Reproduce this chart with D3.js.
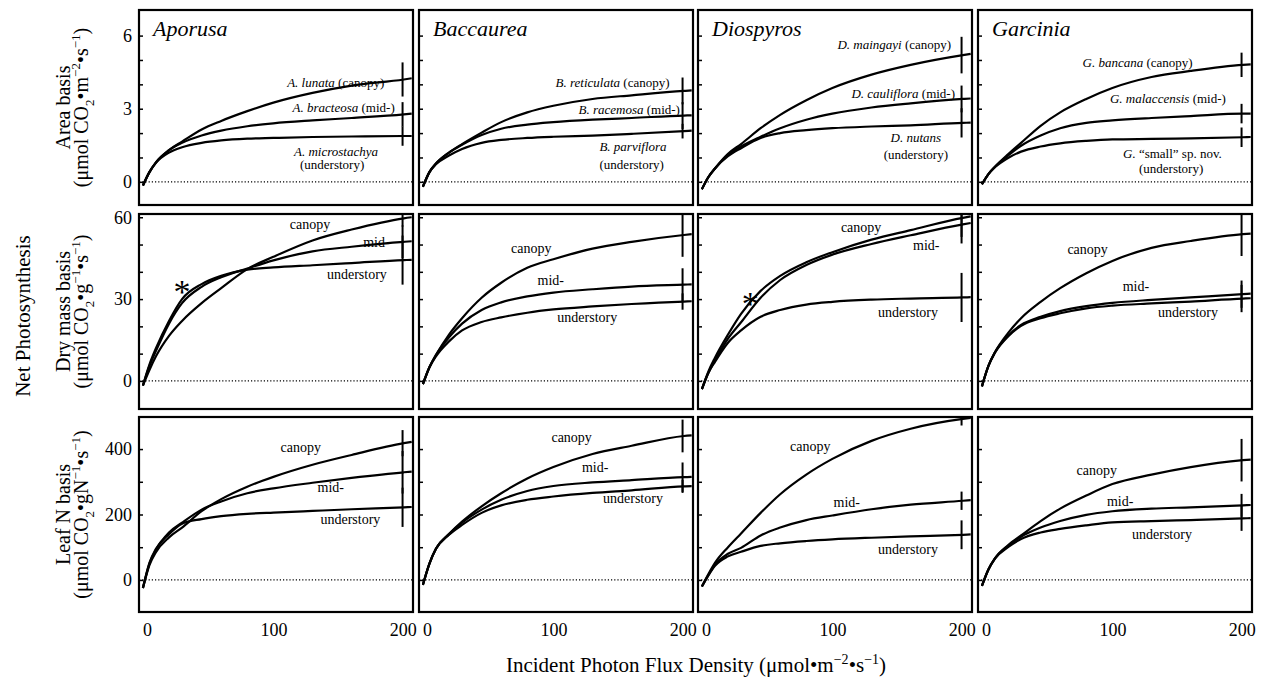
<!DOCTYPE html>
<html>
<head>
<meta charset="utf-8">
<script src="https://cdn.jsdelivr.net/npm/d3@7"></script>
<style>
  body { margin: 0; background: #fff; }
  svg text { font-family: "Liberation Serif", "Times New Roman", serif; fill: #000; }
</style>
</head>
<body>
<svg id="chart" width="1263" height="679"></svg>
<script>
var xs = [0, 5, 10, 20, 30, 45, 60, 80, 100, 130, 160, 200, 206];
var errAt = 199;   // error bars sit at the last measured light level
var genera = ["Aporusa", "Baccaurea", "Diospyros", "Garcinia"];
var xTicks = [0, 100, 200];

/* species names, [italic part, roman part] : canopy, mid-, understory */
var aporusaNames = [["A. lunata", ""], ["A. bracteosa", ""], ["A. microstachya", ""]];
var baccaureaNames = [["B. reticulata", ""], ["B. racemosa", ""], ["B. parviflora", ""]];
var diospyrosNames = [["D. maingayi", ""], ["D. cauliflora", ""], ["D. nutans", ""]];
var garciniaNames = [["G. bancana", ""], ["G. malaccensis", ""], ["G.", " \u201Csmall\u201D sp. nov."]];

/* Area basis: canopy, mid-, understory */
var aporusaArea = [
  [-0.15, 0.4, 0.8, 1.3, 1.65, 2.15, 2.5, 2.9, 3.25, 3.65, 3.95, 4.2, 4.25],
  [-0.15, 0.4, 0.8, 1.3, 1.6, 1.9, 2.1, 2.28, 2.4, 2.52, 2.62, 2.77, 2.8],
  [-0.15, 0.4, 0.78, 1.2, 1.42, 1.6, 1.7, 1.77, 1.8, 1.84, 1.86, 1.88, 1.88]
];
var baccaureaArea = [
  [-0.2, 0.4, 0.75, 1.2, 1.55, 2.02, 2.45, 2.85, 3.12, 3.4, 3.55, 3.73, 3.75],
  [-0.2, 0.4, 0.75, 1.2, 1.52, 1.92, 2.18, 2.35, 2.45, 2.55, 2.62, 2.72, 2.73],
  [-0.2, 0.4, 0.72, 1.08, 1.35, 1.6, 1.72, 1.8, 1.85, 1.9, 1.97, 2.08, 2.1]
];
var diospyrosArea = [
  [-0.3, 0.2, 0.55, 1.15, 1.55, 2.2, 2.75, 3.35, 3.85, 4.4, 4.8, 5.2, 5.25],
  [-0.3, 0.2, 0.55, 1.1, 1.45, 1.85, 2.2, 2.55, 2.8, 3.05, 3.22, 3.4, 3.42],
  [-0.3, 0.2, 0.55, 1.05, 1.38, 1.8, 2.0, 2.12, 2.2, 2.27, 2.32, 2.42, 2.43]
];
var garciniaArea = [
  [-0.1, 0.32, 0.62, 1.13, 1.6, 2.3, 2.85, 3.4, 3.85, 4.3, 4.55, 4.8, 4.82],
  [-0.1, 0.32, 0.62, 1.08, 1.48, 1.9, 2.2, 2.42, 2.52, 2.62, 2.7, 2.8, 2.8],
  [-0.1, 0.32, 0.6, 0.98, 1.24, 1.45, 1.58, 1.68, 1.74, 1.76, 1.78, 1.83, 1.84]
];
var aporusaAreaErr = [0.7, 0.5, 0.4];
var baccaureaAreaErr = [0.55, 0.55, 0.3];
var diospyrosAreaErr = [0.75, 0.55, 0.6];
var garciniaAreaErr = [0.5, 0.4, 0.4];

/* Dry mass basis */
var aporusaMass = [
  [-1.7, 4, 9, 16.5, 22, 28.5, 34, 41, 45.5, 51.5, 55.5, 59.6, 60],
  [-1.7, 5.5, 11, 21, 28.5, 34.5, 38, 41.2, 44.2, 47.5, 49.2, 51, 51.2],
  [-1.7, 6, 12, 22, 30, 35.5, 38.5, 40.8, 41.6, 42.4, 43.2, 44.3, 44.4]
];
var baccaureaMass = [
  [-1.2, 5, 9.5, 17, 23, 30.5, 36, 41.5, 44.6, 48.5, 51, 53.5, 53.8],
  [-1.2, 5, 9.5, 16, 21, 26, 28.8, 31, 32.4, 33.6, 34.6, 35.3, 35.4],
  [-1.2, 5, 9, 14.5, 18.5, 21.6, 23.3, 25, 26.2, 27.3, 28.2, 29.1, 29.2]
];
var diospyrosMass = [
  [-3, 3.5, 8.5, 17, 24.6, 33, 38.5, 43.5, 47.2, 51.8, 55.3, 59.8, 60.3],
  [-3, 3, 7.5, 15.5, 21.5, 30.5, 37, 42.5, 46.3, 50.2, 53.4, 57.4, 57.9],
  [-3, 3, 7, 14, 18.5, 23.5, 26, 28, 29, 29.8, 30.2, 30.6, 30.7]
];
var garciniaMass = [
  [-2, 5.5, 10.5, 17.5, 23, 29, 34, 39.5, 44, 48.8, 51.3, 53.8, 54],
  [-2, 5.5, 10.5, 16.5, 20.5, 23.5, 25.6, 27.4, 28.6, 29.7, 30.6, 31.8, 32],
  [-2, 5.5, 10.3, 16.3, 20.2, 23, 24.8, 26.6, 27.6, 28.4, 29.1, 30.2, 30.3]
];
var aporusaMassErr = [3, 6, 9];
var baccaureaMassErr = [8, 6, 3];
var diospyrosMassErr = [7, 7, 9];
var garciniaMassErr = [8, 5, 5];

/* Leaf N basis */
var aporusaN = [
  [-25, 45, 85, 130, 160, 210, 247, 285, 315, 352, 382, 418, 422],
  [-25, 50, 92, 145, 175, 215, 240, 265, 280, 297, 312, 329, 331],
  [-25, 52, 95, 140, 172, 186, 195, 202, 206, 211, 216, 222, 223]
];
var baccaureaN = [
  [-15, 50, 95, 140, 178, 225, 265, 310, 345, 385, 410, 440, 442],
  [-15, 50, 95, 140, 175, 215, 245, 272, 287, 298, 305, 314, 315],
  [-15, 50, 95, 138, 168, 205, 228, 245, 255, 266, 274, 286, 287]
];
var diospyrosN = [
  [-20, 18, 52, 100, 142, 205, 262, 322, 370, 425, 462, 492, 495],
  [-20, 15, 46, 80, 98, 136, 160, 183, 197, 216, 230, 242, 244],
  [-20, 14, 43, 72, 86, 104, 112, 119, 124, 129, 133, 138, 139]
];
var garciniaN = [
  [-18, 32, 66, 106, 136, 180, 218, 258, 293, 322, 345, 366, 368],
  [-18, 32, 66, 104, 132, 160, 180, 199, 210, 218, 222, 228, 229],
  [-18, 32, 65, 100, 125, 145, 156, 167, 176, 180, 183, 188, 189]
];
var aporusaNErr = [40, 65, 60];
var baccaureaNErr = [50, 45, 20];
var diospyrosNErr = [20, 28, 44];
var garciniaNErr = [65, 35, 38];

var names = [aporusaNames, baccaureaNames, diospyrosNames, garciniaNames];

/* layout */
var svg = d3.select("#chart");
var colLeft = [139, 419, 698, 978],
    rowTop = [10, 214, 417],
    pw = 274, ph = 195;

var sub = function(s) { return [s, "sub"]; }, sup = function(s) { return [s, "sup"]; };

/* rows: scales, ticks, titles, and where the labels go (in data units) */
var rows = [
  { domain: [-0.95, 7.05], minor: d3.range(0, 7, 1), major: [0, 3, 6],
    title: "Area basis",
    units: [["(\u03BCmol CO", ""], sub("2"), ["\u2022m", ""], sup("\u22122"), ["\u2022s", ""], sup("\u22121"), [")", ""]],
    data: [aporusaArea, baccaureaArea, diospyrosArea, garciniaArea],
    err: [aporusaAreaErr, baccaureaAreaErr, diospyrosAreaErr, garciniaAreaErr],
    pos: [
      [[185, 3.9], [193, 2.85], [148, 1.06], [145, 0.53]],
      [[189, 3.9], [197, 2.78], [161, 1.27], [160, 0.53]],
      [[191, 5.47], [194, 3.43], [164, 1.63], [164, 0.94]],
      [[161.5, 4.73], [187, 3.22], [146, 0.98], [145, 0.37]]
    ] },
  { domain: [-10.3, 61.2], minor: d3.range(0, 61, 10), major: [0, 30, 60],
    title: "Dry mass basis",
    units: [["(\u03BCmol CO", ""], sub("2"), ["\u2022g", ""], sup("\u22121"), ["\u2022s", ""], sup("\u22121"), [")", ""]],
    data: [aporusaMass, baccaureaMass, diospyrosMass, garciniaMass],
    err: [aporusaMassErr, baccaureaMassErr, diospyrosMassErr, garciniaMassErr],
    pos: [
      [[128, 55.6], [179, 49], [164, 37.5]],
      [[83, 47], [98, 35], [126, 21.5]],
      [[122, 54.5], [172, 48], [158, 23.6]],
      [[81, 46.6], [118, 33], [158, 23.5]]
    ],
    star: [[30, 28.6], null, [37, 24.2], null] },
  { domain: [-98, 498], minor: d3.range(0, 401, 100), major: [0, 200, 400],
    title: "Leaf N basis",
    units: [["(\u03BCmol CO", ""], sub("2"), ["\u2022gN", ""], sup("\u22121"), ["\u2022s", ""], sup("\u22121"), [")", ""]],
    data: [aporusaN, baccaureaN, diospyrosN, garciniaN],
    err: [aporusaNErr, baccaureaNErr, diospyrosNErr, garciniaNErr],
    pos: [
      [[121, 390], [144, 268], [159, 172]],
      [[114, 421], [132, 329], [161, 234]],
      [[83, 394], [111, 222], [158, 80]],
      [[88, 320], [106, 225], [138, 126]]
    ] }
];

/* writes text made of pieces: "" plain, "i" italic, "sub", "sup" */
function addParts(t, parts, fs) {
  var shift = 0;
  parts.forEach(function(p) {
    if (p[0] === "") return;
    var ts = t.append("tspan").text(p[0]);
    var target = p[1] == "sup" ? -0.38 * fs : p[1] == "sub" ? 0.28 * fs : 0;
    if (target != shift) { ts.attr("dy", target - shift); shift = target; }
    if (p[1] == "sup" || p[1] == "sub") ts.attr("font-size", Math.round(0.66 * fs));
    if (p[1] == "i") ts.attr("font-style", "italic");
  });
}

var serif = "Liberation Serif, Times New Roman, serif";
var x = d3.scaleLinear().domain([-3, 207]).range([0, pw]);

rows.forEach(function(row, r) {
  var y = d3.scaleLinear().domain(row.domain).range([ph, 0]);
  var line = d3.line()
      .x(function(d, i) { return x(xs[i]); })
      .y(function(d) { return y(d); })
      .curve(d3.curveMonotoneX);

  row.data.forEach(function(series, c) {
    var g = svg.append("g")
        .attr("transform", "translate(" + colLeft[c] + "," + rowTop[r] + ")");
    var clipId = "clip" + r + "_" + c;
    g.append("clipPath").attr("id", clipId)
      .append("rect").attr("width", pw).attr("height", ph);

    /* dotted zero line */
    g.append("line")
        .attr("x1", 0).attr("x2", pw)
        .attr("y1", y(0)).attr("y2", y(0))
        .attr("stroke", "#000").attr("stroke-width", 1.2)
        .attr("stroke-dasharray", "1.2,2");

    /* inward tick marks */
    g.append("g")
        .call(d3.axisLeft(y).tickValues(row.minor).tickSize(-4).tickFormat(""))
        .call(function(a) { a.select(".domain").remove(); a.selectAll("line").attr("stroke-width", 1.5); });

    if (c == 0) {
      g.append("g")
          .call(d3.axisLeft(y).tickValues(row.major).tickSize(0).tickPadding(7).tickFormat(d3.format("d")))
          .attr("font-size", 18).attr("font-family", serif)
          .call(function(a) { a.select(".domain").remove(); });
    }
    if (r == rows.length - 1) {
      g.append("g")
          .attr("transform", "translate(0," + ph + ")")
          .call(d3.axisBottom(x).tickValues(xTicks).tickSize(0).tickPadding(11))
          .attr("font-size", 18).attr("font-family", serif)
          .call(function(a) {
            a.select(".domain").remove();
            // the printed figure sets the 0 a little right of the axis origin
            a.selectAll(".tick text").attr("dx", function(d) { return d == 0 ? 4 : d == 200 ? -1 : 0; });
          });
    }

    var cg = g.append("g").attr("clip-path", "url(#" + clipId + ")");
    cg.selectAll("path.curve")
      .data(series)
      .enter().append("path")
        .attr("class", "curve")
        .attr("d", line)
        .attr("fill", "none")
        .attr("stroke", "#000")
        .attr("stroke-width", 2.2);

    var last = xs.indexOf(200);
    cg.selectAll("line.err")
      .data(series)
      .enter().append("line")
        .attr("class", "err")
        .attr("x1", x(errAt)).attr("x2", x(errAt))
        .attr("y1", function(d, i) { return y(d[last] + row.err[c][i]); })
        .attr("y2", function(d, i) { return y(d[last] - row.err[c][i]); })
        .attr("stroke", "#000")
        .attr("stroke-width", 2);

    /* frame */
    g.append("rect")
        .attr("width", pw).attr("height", ph)
        .attr("fill", "none")
        .attr("stroke", "#000")
        .attr("stroke-width", 2.2);

    /* labels */
    var pos = row.pos[c];
    if (r == 0) {
      g.append("text")
          .attr("x", 14).attr("y", 26)
          .attr("font-size", 22).attr("font-style", "italic")
          .text(genera[c]);
      var nm = names[c];
      var fs = 13;
      var t1 = g.append("text").attr("x", x(pos[0][0])).attr("y", y(pos[0][1]))
          .attr("text-anchor", "end").attr("font-size", fs);
      addParts(t1, [[nm[0][0], "i"], [nm[0][1], ""], [" (canopy)", ""]], fs);
      var t2 = g.append("text").attr("x", x(pos[1][0])).attr("y", y(pos[1][1]))
          .attr("text-anchor", "end").attr("font-size", fs);
      addParts(t2, [[nm[1][0], "i"], [nm[1][1], ""], [" (mid-)", ""]], fs);
      var t3 = g.append("text").attr("x", x(pos[2][0])).attr("y", y(pos[2][1]))
          .attr("text-anchor", "middle").attr("font-size", fs);
      addParts(t3, [[nm[2][0], "i"], [nm[2][1], ""]], fs);
      g.append("text").attr("x", x(pos[3][0])).attr("y", y(pos[3][1]))
          .attr("text-anchor", "middle").attr("font-size", fs)
          .text("(understory)");
    } else {
      ["canopy", "mid-", "understory"].forEach(function(lab, i) {
        g.append("text").attr("x", x(pos[i][0])).attr("y", y(pos[i][1]))
            .attr("text-anchor", "middle").attr("font-size", 14)
            .text(lab);
      });
      if (row.star && row.star[c]) {
        g.append("text").attr("x", x(row.star[c][0])).attr("y", y(row.star[c][1]))
            .attr("text-anchor", "middle").attr("font-size", 34)
            .text("*");
      }
    }
  });

  /* row titles */
  var cy = rowTop[r] + ph / 2;
  svg.append("text")
      .attr("transform", "translate(70," + cy + ") rotate(-90)")
      .attr("text-anchor", "middle").attr("font-size", 20)
      .text(row.title);
  var u = svg.append("text")
      .attr("transform", "translate(88," + cy + ") rotate(-90)")
      .attr("text-anchor", "middle").attr("font-size", 20);
  addParts(u, row.units, 20);
});

svg.append("text")
    .attr("transform", "translate(30,316) rotate(-90)")
    .attr("text-anchor", "middle").attr("font-size", 21)
    .text("Net Photosynthesis");

var xt = svg.append("text")
    .attr("x", 696).attr("y", 672)
    .attr("text-anchor", "middle").attr("font-size", 21);
addParts(xt, [["Incident Photon Flux Density (\u03BCmol\u2022m", ""], sup("\u22122"), ["\u2022s", ""], sup("\u22121"), [")", ""]], 21);
</script>
</body>
</html>
